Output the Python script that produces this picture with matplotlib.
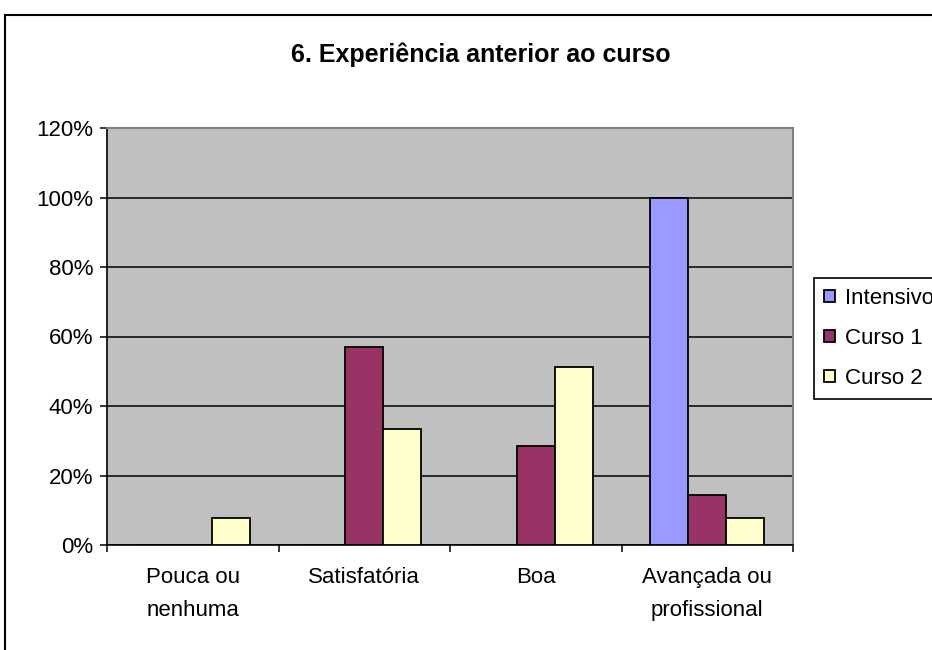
import numpy as np
import matplotlib
matplotlib.use('Agg')
import matplotlib.pyplot as plt
from matplotlib.lines import Line2D
from matplotlib.ticker import FuncFormatter

plt.rcParams['font.family'] = ['Liberation Sans', 'DejaVu Sans']

# dados
categorias = ['Pouca ou\nnenhuma', 'Satisfatória', 'Boa', 'Avançada ou\nprofissional']
series = ['Intensivo', 'Curso 1', 'Curso 2']
intensivo = [0, 0, 0, 100]
curso1 = [0, 57.1, 28.6, 14.3]
curso2 = [7.7, 33.3, 51.3, 7.7]
cores = ['#9999FF', '#993366', '#FFFFCC']

fig = plt.figure(figsize=(9.32, 6.5), dpi=100)
ax = fig.add_axes([107/932, 1-545/650, (793-107)/932, (545-128)/650])
ax.set_facecolor('#C0C0C0')

###############################
# barras (gap 150% estilo Excel)
x = np.arange(len(categorias))
w = 1/4.5
for i, (nome, vals) in enumerate(zip(series, [intensivo, curso1, curso2])):
	ax.bar(x + (i-1)*w, vals, w, color=cores[i], edgecolor='black', linewidth=1.3,
		label=nome, zorder=3)

###############################
# eixos
ax.set_xlim(-0.5, len(categorias)-0.5)
ax.set_ylim(0, 120)
ax.set_yticks(np.arange(0, 121, 20))
ax.yaxis.set_major_formatter(FuncFormatter(lambda v, p: '%d%%' % v))
ax.grid(axis='y', color='black', linewidth=1.1, zorder=1)
ax.set_axisbelow(True)
ax.set_xticks(np.arange(-0.5, len(categorias), 1))
ax.set_xticklabels([])
ax.set_xticks(x, minor=True)
ax.set_xticklabels(categorias, minor=True, fontsize=16, linespacing=1.75)
ax.tick_params(axis='x', which='minor', length=0, pad=16)
ax.tick_params(axis='x', which='major', length=5, width=1.1, direction='out')
ax.tick_params(axis='y', length=5, width=1.1, labelsize=16, pad=5)
for s in ['top', 'right']:
	ax.spines[s].set_color('#808080')
	ax.spines[s].set_linewidth(1.5)
for s in ['left', 'bottom']:
	ax.spines[s].set_color('black')
	ax.spines[s].set_linewidth(1.2)

fig.text(481/932, 1-55/650, '6. Experiência anterior ao curso', ha='center', va='center',
	fontsize=18, fontweight='bold')

###############################
# legenda (cortada na borda direita, como no original)
leg = fig.legend(loc='upper left', bbox_to_anchor=(814/932, 1-278/650), fontsize=16,
	frameon=True, fancybox=False, edgecolor='black', framealpha=1,
	handlelength=0.5, handleheight=0.5, handletextpad=0.45, labelspacing=0.85,
	borderpad=0.45, borderaxespad=0)
leg.get_frame().set_linewidth(1.2)

# borda externa do gráfico
fig.add_artist(Line2D([5/932, 5/932], [0, 1-15/650], color='black', linewidth=1.5))
fig.add_artist(Line2D([5/932, 1], [1-15/650, 1-15/650], color='black', linewidth=1.5))

fig.savefig('out.png', dpi=100)
